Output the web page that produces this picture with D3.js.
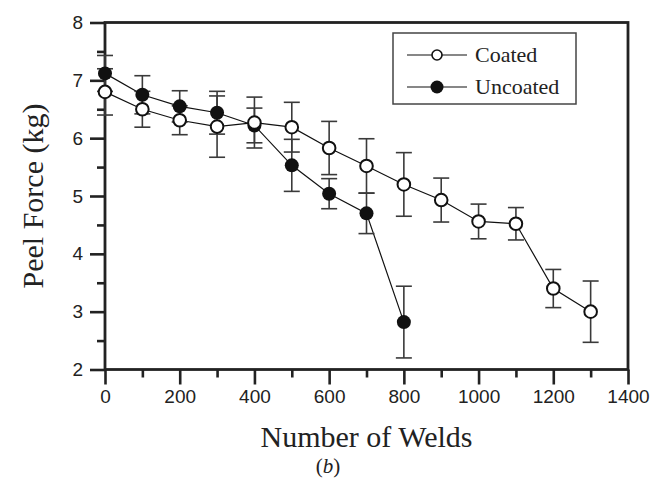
<!DOCTYPE html>
<html>
<head>
<meta charset="utf-8">
<script src="https://cdn.jsdelivr.net/npm/d3@7"></script>
<style>
  html, body { margin: 0; padding: 0; background: #fff; }
  svg { display: block; }
</style>
</head>
<body>
<svg id="chart" width="651" height="478"></svg>
<script>
// Peel force vs. number of welds, coated and uncoated electrodes
const coatedWelds   = [0, 100, 200, 300, 400, 500, 600, 700, 800, 900, 1000, 1100, 1200, 1300];
const coatedForce   = [6.80, 6.50, 6.31, 6.20, 6.27, 6.19, 5.83, 5.52, 5.20, 4.93, 4.56, 4.52, 3.40, 3.00];
const coatedErr     = [0.40, 0.31, 0.25, 0.53, 0.44, 0.43, 0.46, 0.47, 0.55, 0.38, 0.30, 0.28, 0.33, 0.53];

const uncoatedWelds = [0, 100, 200, 300, 400, 500, 600, 700, 800];
const uncoatedForce = [7.12, 6.75, 6.55, 6.44, 6.22, 5.53, 5.04, 4.70, 2.82];
const uncoatedErr   = [0.31, 0.33, 0.27, 0.37, 0.30, 0.45, 0.26, 0.35, 0.62];

const xTicks = [0, 200, 400, 600, 800, 1000, 1200, 1400];
const yTicks = [2, 3, 4, 5, 6, 7, 8];

(function () {
  const svg = d3.select("#chart");
  const plotL = 105, plotR = 628, plotT = 22.5, plotB = 369.5;
  const ink = "#222";
  const serif = "'Liberation Serif', 'Times New Roman', serif";

  const x = d3.scaleLinear().domain([0, 1400]).range([plotL, plotR]);
  const y = d3.scaleLinear().domain([2, 8]).range([plotB, plotT]);

  const coated = coatedWelds.map((w, i) => ({ w, v: coatedForce[i], e: coatedErr[i] }));
  const uncoated = uncoatedWelds.map((w, i) => ({ w, v: uncoatedForce[i], e: uncoatedErr[i] }));

  // Axes: major ticks labelled, minor ticks between them
  const xAxis = d3.axisBottom(x).tickValues(xTicks).tickSize(15).tickPadding(5).tickFormat(d3.format("d"));
  const xMinor = d3.axisBottom(x).tickValues(d3.range(100, 1400, 200)).tickSize(8).tickFormat("");
  const yAxis = d3.axisLeft(y).tickValues(yTicks).tickSize(15).tickPadding(7).tickFormat(d3.format("d"));
  const yMinor = d3.axisLeft(y).tickValues(d3.range(2.5, 8, 1)).tickSize(8).tickFormat("");

  function styleAxis(g) {
    g.select(".domain").remove();
    g.selectAll(".tick line").attr("stroke", ink).attr("stroke-width", 2.6);
    g.selectAll(".tick text").attr("fill", ink)
      .style("font-family", "'Liberation Sans', Arial, sans-serif").style("font-size", "19px");
  }

  svg.append("g").attr("transform", `translate(0,${plotB})`).call(xMinor).call(styleAxis);
  svg.append("g").attr("transform", `translate(0,${plotB})`).call(xAxis).call(styleAxis);
  svg.append("g").attr("transform", `translate(${plotL},0)`).call(yMinor).call(styleAxis);
  svg.append("g").attr("transform", `translate(${plotL},0)`).call(yAxis).call(styleAxis);

  // Plot frame
  svg.append("rect")
    .attr("x", plotL).attr("y", plotT)
    .attr("width", plotR - plotL).attr("height", plotB - plotT)
    .attr("fill", "none").attr("stroke", ink).attr("stroke-width", 2.8);

  // Connecting lines
  const line = d3.line().x(d => x(d.w)).y(d => y(d.v));
  [coated, uncoated].forEach(series => {
    svg.append("path").datum(series).attr("d", line)
      .attr("fill", "none").attr("stroke", "#111").attr("stroke-width", 1.2);
  });

  // Error bars with caps
  const capHalf = 8;
  function errorBars(series) {
    const g = svg.append("g").attr("stroke", "#3a3a3a").attr("stroke-width", 1.6);
    series.forEach(d => {
      const cx = x(d.w), y1 = y(d.v + d.e), y2 = y(d.v - d.e);
      g.append("line").attr("x1", cx).attr("x2", cx).attr("y1", y1).attr("y2", y2);
      g.append("line").attr("x1", cx - capHalf).attr("x2", cx + capHalf).attr("y1", y1).attr("y2", y1);
      g.append("line").attr("x1", cx - capHalf).attr("x2", cx + capHalf).attr("y1", y2).attr("y2", y2);
    });
  }
  errorBars(coated);
  errorBars(uncoated);

  // Markers
  svg.append("g").selectAll("circle").data(uncoated).join("circle")
    .attr("cx", d => x(d.w)).attr("cy", d => y(d.v)).attr("r", 7)
    .attr("fill", "#111");
  svg.append("g").selectAll("circle").data(coated).join("circle")
    .attr("cx", d => x(d.w)).attr("cy", d => y(d.v)).attr("r", 6.3)
    .attr("fill", "#fff").attr("stroke", "#111").attr("stroke-width", 2);

  // Legend
  const lg = svg.append("g");
  lg.append("rect").attr("x", 393).attr("y", 33).attr("width", 183).attr("height", 71)
    .attr("fill", "#fff").attr("stroke", "#444").attr("stroke-width", 1.5);
  const legendItems = [
    { label: "Coated", filled: false, cy: 55 },
    { label: "Uncoated", filled: true, cy: 87 }
  ];
  legendItems.forEach(it => {
    lg.append("line").attr("x1", 407).attr("x2", 467).attr("y1", it.cy).attr("y2", it.cy)
      .attr("stroke", "#111").attr("stroke-width", 1.2);
    if (it.filled) {
      lg.append("circle").attr("cx", 437).attr("cy", it.cy).attr("r", 6.5).attr("fill", "#111");
    } else {
      lg.append("circle").attr("cx", 437).attr("cy", it.cy).attr("r", 5)
        .attr("fill", "#fff").attr("stroke", "#111").attr("stroke-width", 1.6);
    }
    lg.append("text").attr("x", 475).attr("y", it.cy + 7).text(it.label)
      .attr("fill", ink)
      .style("font-family", serif).style("font-size", "22px");
  });

  // Axis titles
  svg.append("text")
    .attr("x", (plotL + plotR) / 2).attr("y", 447)
    .attr("text-anchor", "middle").attr("fill", ink)
    .style("font-family", serif).style("font-size", "30px")
    .text("Number of Welds");

  svg.append("text")
    .attr("transform", `translate(43,${(plotT + plotB) / 2}) rotate(-90)`)
    .attr("text-anchor", "middle").attr("fill", ink)
    .style("font-family", serif).style("font-size", "30px")
    .text("Peel Force (kg)");

  // Panel label
  const panel = svg.append("text")
    .attr("x", 328).attr("y", 473)
    .attr("text-anchor", "middle").attr("fill", ink)
    .style("font-family", serif).style("font-size", "21px");
  panel.append("tspan").text("(");
  panel.append("tspan").style("font-style", "italic").text("b");
  panel.append("tspan").text(")");
})();
</script>
</body>
</html>
